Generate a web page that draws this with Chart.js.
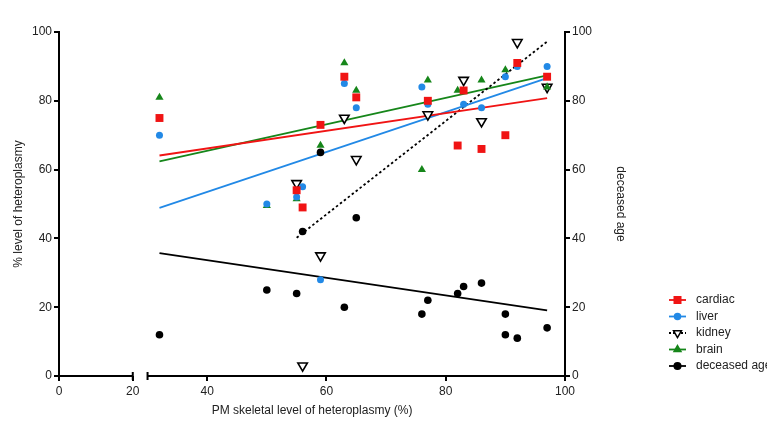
<!DOCTYPE html>
<html>
<head>
<meta charset="utf-8">
<style>
  html, body { margin: 0; padding: 0; background: #fff; }
  #wrap { position: relative; width: 767px; height: 422px; }
</style>
<script src="https://cdn.jsdelivr.net/npm/chart.js@4/dist/chart.umd.min.js"></script>
</head>
<body>
<div id="wrap"><canvas id="chart"></canvas></div>
<script>
/* global Chart */

// Axis ticks and the break in the x axis
const xTicks = [0, 20, 40, 60, 80, 100];
const yTicks = [0, 20, 40, 60, 80, 100];
const xBreak = [20, 30];

// Tissue heteroplasmy (%) against PM skeletal level (%)
const cardiacX = [32, 55, 56, 59, 63, 65, 77, 82, 83, 86, 90, 92, 97];
const cardiacY = [75, 54, 49, 73, 87, 81, 80, 67, 83, 66, 70, 91, 87];

const liverX = [32, 50, 55, 56, 59, 63, 65, 76, 77, 83, 86, 90, 92, 97];
const liverY = [70, 50, 52, 55, 28, 85, 78, 84, 79, 79, 78, 87, 90, 90];

const kidneyX = [55, 56, 59, 63, 65, 77, 83, 86, 92, 97];
const kidneyY = [56, 3, 35, 75, 63, 76, 86, 74, 97, 84];

const brainX = [32, 50, 55, 59, 63, 65, 76, 77, 82, 86, 90, 97];
const brainY = [81, 49.5, 51.5, 67, 91, 83, 60, 86, 83, 86, 89, 84];

// Deceased age (right axis)
const ageX = [32, 50, 55, 56, 59, 63, 65, 76, 77, 82, 83, 86, 90, 90, 92, 97];
const ageY = [12, 25, 24, 42, 65, 20, 46, 18, 22, 24, 26, 27, 18, 12, 11, 14];

// Fitted lines, end points
const fitX = [32, 97];
const cardiacFitY = [64.1, 80.8];
const liverFitY = [48.9, 86.6];
const brainFitY = [62.4, 87.4];
const ageFitY = [35.7, 19.1];
const kidneyFitX = [55, 97];
const kidneyFitY = [40.2, 97.2];

const RED = "#f01414";
const BLUE = "#2289e6";
const GREEN = "#16861a";
const BLACK = "#000000";

function pts(xs, ys) {
  return xs.map((x, i) => ({ x, y: ys[i] }));
}

// Linear scale with a gap between 20 and 30
const SEGMENTS = [
  { from: 0, to: 20, start: 0, end: 0.1458 },
  { from: 30, to: 100, start: 0.175, end: 1 }
];

function toFraction(v) {
  const [a, b] = SEGMENTS;
  if (v <= a.to) return a.start + (v - a.from) / (a.to - a.from) * (a.end - a.start);
  if (v >= b.from) return b.start + (v - b.from) / (b.to - b.from) * (b.end - b.start);
  return a.end + (v - a.to) / (b.from - a.to) * (b.start - a.end);
}

class BrokenLinearScale extends Chart.LinearScale {
  getPixelForValue(value) {
    if (value === null || isNaN(value)) return NaN;
    return this.left + this.width * toFraction(value);
  }
  getValueForPixel(pixel) {
    const f = (pixel - this.left) / this.width;
    const [a, b] = SEGMENTS;
    if (f <= a.end) return a.from + (f - a.start) / (a.end - a.start) * (a.to - a.from);
    if (f >= b.start) return b.from + (f - b.start) / (b.end - b.start) * (b.to - b.from);
    return a.to + (f - a.end) / (b.start - a.end) * (b.from - a.to);
  }
}
BrokenLinearScale.id = "brokenLinear";
BrokenLinearScale.defaults = Chart.LinearScale.defaults;
Chart.register(BrokenLinearScale);

const brokenAxisPlugin = {
  id: "brokenAxis",
  afterDraw(chart) {
    const ctx = chart.ctx;
    const xs = chart.scales.x;
    const y = chart.chartArea.bottom;
    const p0 = xs.getPixelForValue(xTicks[0]);
    const p1 = xs.getPixelForValue(xBreak[0]);
    const p2 = xs.getPixelForValue(xBreak[1]);
    const p3 = xs.getPixelForValue(xTicks[xTicks.length - 1]);
    ctx.save();
    ctx.strokeStyle = BLACK;
    ctx.lineWidth = 2;
    ctx.beginPath();
    ctx.moveTo(p0 - 1, y);
    ctx.lineTo(p1, y);
    ctx.moveTo(p2, y);
    ctx.lineTo(p3 + 1, y);
    ctx.moveTo(p1, y - 4);
    ctx.lineTo(p1, y + 4);
    ctx.moveTo(p2, y - 4);
    ctx.lineTo(p2, y + 4);
    ctx.stroke();
    ctx.restore();
  }
};

const legendItems = [
  { label: "cardiac", color: RED, style: "rect", radius: 4.6, dash: [], fill: RED },
  { label: "liver", color: BLUE, style: "circle", radius: 3, dash: [], fill: BLUE },
  { label: "kidney", color: BLACK, style: "triangle", radius: 4.6, rotation: 180, dash: [2, 2], fill: "#fff" },
  { label: "brain", color: GREEN, style: "triangle", radius: 4, dash: [], fill: GREEN },
  { label: "deceased age", color: BLACK, style: "circle", radius: 3.3, dash: [], fill: BLACK }
];

const legendPlugin = {
  id: "sideLegend",
  afterDraw(chart) {
    const ctx = chart.ctx;
    const area = chart.chartArea;
    const x0 = area.right + 104;
    const y0 = area.bottom - 76;
    ctx.save();
    legendItems.forEach((it, i) => {
      const y = y0 + i * 16.5;
      ctx.strokeStyle = it.color;
      ctx.lineWidth = 1.8;
      ctx.setLineDash(it.dash);
      ctx.beginPath();
      ctx.moveTo(x0, y);
      ctx.lineTo(x0 + 17, y);
      ctx.stroke();
      ctx.setLineDash([]);
      ctx.fillStyle = it.fill;
      ctx.strokeStyle = it.color;
      ctx.lineWidth = 1.5;
      Chart.helpers.drawPoint(ctx, {
        pointStyle: it.style,
        radius: it.radius,
        rotation: it.rotation || 0,
        borderWidth: 1.5
      }, x0 + 8.5, y);
      ctx.fillStyle = "#222";
      ctx.font = "12px 'Liberation Sans', Arial, sans-serif";
      ctx.textBaseline = "middle";
      ctx.fillText(it.label, x0 + 27, y);
    });
    ctx.restore();
  }
};

function scatterSet(label, data, opts, order) {
  return Object.assign({
    type: "scatter",
    label,
    data,
    showLine: false,
    borderWidth: 0,
    yAxisID: "y",
    order
  }, opts);
}

function fitSet(label, data, color, dash, axis) {
  return {
    type: "scatter",
    label,
    data,
    showLine: true,
    borderColor: color,
    borderWidth: 1.8,
    borderDash: dash,
    pointRadius: 0,
    pointHoverRadius: 0,
    fill: false,
    yAxisID: axis,
    order: 20
  };
}

function buildChart() {
  Chart.defaults.font.family = "'Liberation Sans', Arial, sans-serif";
  Chart.defaults.font.size = 12;
  Chart.defaults.color = "#222";

  const datasets = [
    fitSet("cardiac fit", pts(fitX, cardiacFitY), RED, [], "y"),
    fitSet("liver fit", pts(fitX, liverFitY), BLUE, [], "y"),
    fitSet("kidney fit", pts(kidneyFitX, kidneyFitY), BLACK, [2.5, 2.5], "y"),
    fitSet("brain fit", pts(fitX, brainFitY), GREEN, [], "y"),
    fitSet("age fit", pts(fitX, ageFitY), BLACK, [], "y2"),

    scatterSet("cardiac", pts(cardiacX, cardiacY), {
      pointStyle: "rect", pointRadius: 5.6, backgroundColor: RED, borderColor: RED
    }, 2),
    scatterSet("liver", pts(liverX, liverY), {
      pointStyle: "circle", pointRadius: 3.5, backgroundColor: BLUE, borderColor: BLUE
    }, 3),
    scatterSet("brain", pts(brainX, brainY), {
      pointStyle: "triangle", pointRadius: 4.7, backgroundColor: GREEN, borderColor: GREEN
    }, 4),
    scatterSet("kidney", pts(kidneyX, kidneyY), {
      pointStyle: "triangle", pointRadius: 5.5, pointRotation: 180,
      backgroundColor: "#ffffff", borderColor: BLACK, borderWidth: 1.6
    }, 5),
    scatterSet("deceased age", pts(ageX, ageY), {
      pointStyle: "circle", pointRadius: 3.8, backgroundColor: BLACK, borderColor: BLACK,
      yAxisID: "y2"
    }, 1)
  ];

  const yScale = (position, title, titlePad, width) => ({
    type: "linear",
    position,
    min: 0,
    max: 100,
    afterBuildTicks: s => { s.ticks = yTicks.map(v => ({ value: v })); },
    afterFit: s => { s.width = width; },
    border: { display: true, color: BLACK, width: 2 },
    grid: {
      display: true,
      drawOnChartArea: false,
      drawTicks: true,
      tickLength: 5,
      color: BLACK,
      lineWidth: 2
    },
    ticks: { padding: 2, color: "#222", font: { size: 12 } },
    title: {
      display: true,
      text: title,
      color: "#222",
      font: { size: 12 },
      padding: { top: titlePad, bottom: titlePad }
    }
  });

  return new Chart(document.getElementById("chart"), {
    type: "scatter",
    data: { datasets },
    options: {
      responsive: true,
      maintainAspectRatio: false,
      animation: false,
      layout: { padding: { top: 32, right: 132, bottom: 0, left: 0 } },
      plugins: {
        legend: { display: false },
        tooltip: { enabled: false }
      },
      scales: {
        x: {
          type: "brokenLinear",
          min: 0,
          max: 100,
          afterBuildTicks: s => { s.ticks = xTicks.map(v => ({ value: v })); },
          afterFit: s => { s.height = 46; },
          border: { display: false },
          grid: {
            display: true,
            drawOnChartArea: false,
            drawTicks: true,
            tickLength: 5,
            color: BLACK,
            lineWidth: 2
          },
          ticks: { padding: 3, maxRotation: 0, color: "#222", font: { size: 12 } },
          title: {
            display: true,
            text: "PM skeletal level of heteroplasmy (%)",
            color: "#222",
            font: { size: 12 },
            padding: { top: 4, bottom: 4 }
          }
        },
        y: yScale("left", "% level of heteroplasmy", 11, 59),
        y2: yScale("right", "deceased age", 7, 70)
      }
    },
    plugins: [brokenAxisPlugin, legendPlugin]
  });
}

document.addEventListener("DOMContentLoaded", buildChart);
</script>
</body>
</html>
